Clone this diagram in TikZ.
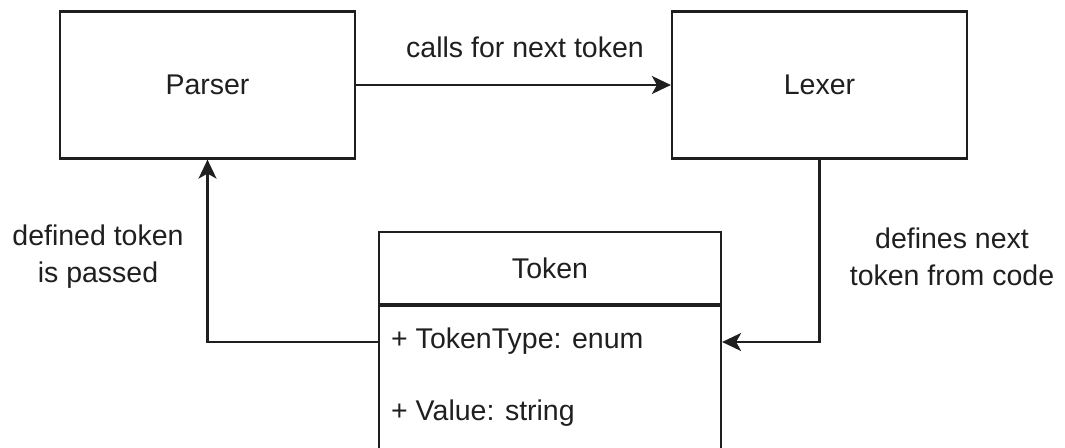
\documentclass[tikz,border=0pt]{standalone}
\usepackage{fontspec}
\setmainfont{Liberation Sans}
\usetikzlibrary{arrows.meta}
\begin{document}
\begin{tikzpicture}[x=1pt,y=-1pt,
  every node/.style={text=black!88, font=\fontsize{28.5}{37}\selectfont},
  box/.style={draw=black!88, line width=2.2pt, minimum width=295pt, minimum height=147pt, inner sep=0pt},
  classbox/.style={draw=black!88, line width=2.2pt, minimum width=342pt, inner sep=0pt},
  conn/.style={draw=black!88, line width=2.2pt, -{Stealth[length=19pt,width=18pt,inset=5pt]}},
  lbl/.style={align=center, inner sep=0pt}]
\clip (0,0) rectangle (1065,447);
\useasboundingbox (0,0) rectangle (1065,447);
\node[box] (parser) at (207.5,85) {Parser};
\node[box] (lexer) at (819.5,85) {Lexer};
\node[classbox, minimum height=72pt] (tokhead) at (550,268) {Token};
\node[classbox, minimum height=190pt, anchor=north] (tokbody) at (tokhead.south) {};
\node[anchor=west, inner sep=0pt] (f1) at (391,341) {+ TokenType: enum};
\node[anchor=west, inner sep=0pt] (f2) at (391,413) {+ Value: string};
\coordinate (lin) at (tokbody.west |- 0,342);
\coordinate (rin) at (tokbody.east |- 0,342);
\draw[conn] (parser.east) -- (lexer.west);
\draw[conn] (lin) -| (parser.south);
\draw[conn] (lexer.south) |- (rin);
\node[lbl] (l1) at (525,47) {calls for next token};
\node[lbl] (l2) at (98,257) {defined token\\is passed};
\node[lbl] (l3) at (952,257) {defines next\\token from code};
\end{tikzpicture}
\end{document}
